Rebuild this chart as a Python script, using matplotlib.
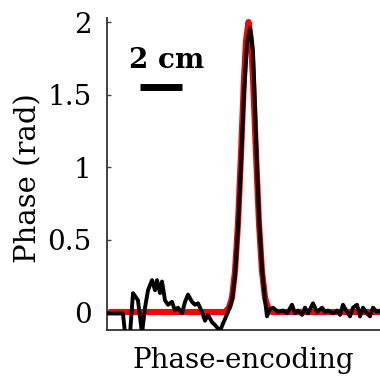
import matplotlib
matplotlib.use("Agg")
from matplotlib import pyplot as plt

# measured phase profile (black) along phase-encoding direction
pe_meas = [1, 16, 18, 23, 26, 31, 35, 38, 41, 45, 48, 50, 53, 55, 58, 61, 65, 68, 71, 75,
           78, 81, 85, 88, 91, 95, 98, 101, 105, 108, 113, 116, 121, 125, 128, 131, 134,
           137, 140, 143, 146, 149, 152, 155, 158, 160, 163, 166, 171, 176, 180, 185, 188,
           191, 195, 198, 201, 206, 210, 215, 218, 221, 226, 230, 233, 236, 240, 243, 246,
           250, 253, 256, 260, 263, 266, 270, 273]
phase_meas = [-0.01, -0.01, -0.15, -0.15, 0.13, 0.08, -0.15, 0.03, 0.15, 0.22, 0.15, 0.22,
              0.13, 0.21, 0.08, 0.05, 0.07, 0.01, 0.03, -0.01, 0.07, 0.12, 0.07, 0.05, 0.06,
              0.0, -0.06, -0.02, -0.07, -0.09, -0.13, -0.08, 0.0, 0.08, 0.25, 0.58, 1.02,
              1.52, 1.85, 1.96, 1.8, 1.2, 0.65, 0.3, 0.08, -0.03, 0.02, 0.03, 0.0, 0.01,
              -0.01, 0.05, -0.01, 0.01, -0.02, 0.03, -0.01, 0.06, 0.0, 0.03, 0.0, 0.01,
              -0.01, 0.01, -0.02, 0.05, 0.0, -0.03, 0.03, 0.05, -0.03, 0.03, -0.01, -0.03,
              0.03, 0.0, 0.01]

# expected phase profile (red)
pe_ref = [3, 118, 122, 125, 128, 131, 134, 137, 139, 141.5, 144, 146, 149, 152, 155, 158, 161, 165, 273]
phase_ref = [0.0, 0.0, 0.03, 0.10, 0.28, 0.61, 1.09, 1.61, 1.87, 2.0, 1.87, 1.61, 1.09, 0.61,
             0.28, 0.10, 0.03, 0.0, 0.0]

ytick_vals = [0, 0.5, 1, 1.5, 2]
ytick_text = ["0", "0.5", "1", "1.5", "2"]

plt.rcParams['font.family'] = ['DejaVu Serif']

fig = plt.figure(figsize=(3.8, 3.81), dpi=100)
ax = fig.add_axes([0.2816, 0.1339, 0.7184, 0.8189])

ax.plot(pe_ref, phase_ref, color="#ff0000", lw=4.4, solid_capstyle="round", zorder=2)
ax.plot(pe_meas, phase_meas, color="black", lw=2.8, zorder=3)

ax.set_xlim(0, 273)
ax.set_ylim(-0.124, 2.028)
ax.set_xticks([])
ax.set_yticks(ytick_vals)
ax.set_yticklabels(ytick_text, fontsize=20)
ax.tick_params(axis="y", direction="in", length=3, width=1, color="#444444", pad=11)

for side in ["top", "right"]:
    ax.spines[side].set_visible(False)
for side in ["left", "bottom"]:
    ax.spines[side].set_color("#333333")
    ax.spines[side].set_linewidth(1.3)

ax.set_xlabel("Phase-encoding", fontsize=20, labelpad=12)
ax.set_ylabel("Phase (rad)", fontsize=21, va="center")
ax.yaxis.set_label_coords(-0.289, 0.487)

# scale bar
ax.text(22, 1.68, "2 cm", fontsize=20, fontweight="bold", ha="left", va="baseline")
ax.plot([33, 75], [1.55, 1.55], color="black", lw=5, solid_capstyle="butt")

fig.savefig("out.png", dpi=100)
